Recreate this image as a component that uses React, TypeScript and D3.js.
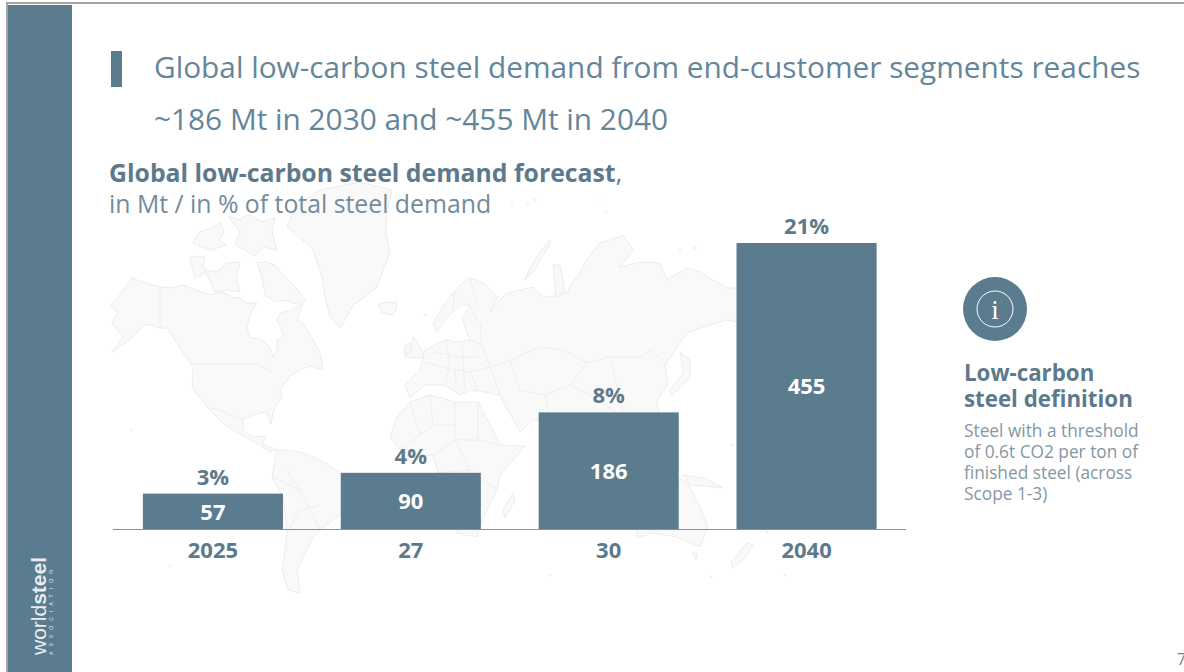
import * as d3 from "d3";

const categories = ["2025", "27", "30", "2040"];
const demandMt = [57, 90, 186, 455];
const sharePct = ["3%", "4%", "8%", "21%"];
const titleLines = [
  "Global low-carbon steel demand from end-customer segments reaches",
  "~186 Mt in 2030 and ~455 Mt in 2040",
];
const noteLines = [
  "Steel with a threshold",
  "of 0.6t CO2 per ton of",
  "finished steel (across",
  "Scope 1-3)",
];

// faint background map, traced by eye in page pixels (decoration only)
type Pt = [number, number];
const land: Pt[][] = [
  // north america
  [[110,305],[118,297],[132,278],[146,283],[160,287],[171,288],[183,285],[196,290],[210,295],[222,292],[233,297],[240,298],[247,303],[257,303],[252,310],[247,327],[250,337],[262,340],[270,347],[273,357],[277,350],[277,340],[284,336],[277,320],[280,313],[292,310],[303,303],[297,320],[303,323],[312,338],[320,353],[323,370],[310,366],[300,370],[290,376],[280,390],[282,397],[276,405],[273,413],[271,424],[266,412],[255,414],[243,420],[243,430],[253,437],[266,436],[262,444],[277,450],[270,452],[253,441],[243,436],[225,425],[207,407],[198,395],[192,387],[193,367],[180,348],[167,328],[160,328],[150,325],[143,325],[133,337],[112,352],[123,337],[112,323],[118,312]],
  // south america
  [[277,450],[287,450],[300,452],[313,457],[327,464],[340,472],[352,484],[345,505],[340,515],[330,522],[320,530],[313,537],[308,548],[302,560],[297,570],[300,593],[288,590],[282,570],[285,550],[287,533],[285,515],[283,497],[272,477]],
  // greenland
  [[287,227],[300,238],[313,250],[318,265],[322,277],[325,297],[330,317],[340,328],[346,318],[353,305],[365,297],[377,287],[383,270],[390,253],[386,232],[387,213],[392,190],[360,182],[320,190],[300,203],[292,215]],
  // arctic islands
  [[193,243],[199,232],[212,228],[220,223],[224,232],[219,240],[226,245],[212,250],[202,247]],
  [[228,216],[240,220],[248,214],[262,222],[275,218],[272,232],[277,250],[264,247],[255,256],[245,250],[235,245],[240,232]],
  [[190,258],[198,256],[205,257],[203,265],[207,272],[195,278]],
  [[205,270],[218,272],[226,263],[240,262],[236,278],[240,292],[226,290],[215,292]],
  [[257,263],[266,262],[275,265],[286,278],[296,288],[306,300],[296,304],[285,300],[276,302],[265,295],[262,278]],
  [[378,305],[388,302],[397,303],[396,310],[393,315],[382,313]],
  [[413,337],[420,347],[425,357],[415,358],[405,357],[411,347]],
  [[405,345],[410,343],[411,352],[404,354]],
  // eurasia
  [[433,323],[443,306],[453,293],[461,284],[470,278],[485,284],[498,297],[490,312],[500,300],[507,293],[520,290],[533,287],[542,296],[550,297],[567,293],[572,282],[577,277],[588,258],[600,243],[610,240],[623,235],[633,250],[620,267],[640,262],[660,263],[667,280],[687,268],[700,272],[713,280],[728,288],[740,288],[760,300],[760,330],[745,345],[738,322],[727,320],[707,326],[687,333],[677,347],[665,365],[668,385],[657,400],[660,420],[650,450],[640,470],[625,445],[610,430],[590,425],[582,450],[570,425],[552,420],[533,420],[520,432],[505,405],[500,395],[485,392],[470,390],[460,395],[445,385],[425,385],[410,398],[405,385],[420,370],[425,350],[435,345],[445,340],[458,342],[470,340],[466,330],[462,318],[470,306],[463,304],[452,312],[445,320],[437,332]],
  [[680,352],[690,360],[690,378],[672,395],[670,390],[684,372]],
  [[530,268],[540,252],[550,240],[550,245],[541,258],[535,270],[525,280]],
  [[553,265],[560,265],[563,280],[565,292],[556,298]],
  // africa
  [[397,417],[410,402],[430,395],[442,398],[455,402],[478,402],[484,414],[490,425],[500,445],[525,446],[513,460],[500,475],[497,490],[483,517],[477,537],[457,533],[456,515],[453,500],[438,473],[433,455],[415,457],[400,450],[390,437]],
  [[513,493],[515,500],[505,518],[503,510]],
  // oceania
  [[680,478],[687,483],[694,495],[700,507],[708,527],[700,547],[677,537],[653,533],[637,538],[637,520],[655,500],[670,490]],
  [[692,553],[698,554],[696,560]],
  [[683,475],[705,478],[723,488],[705,486],[690,485]],
  [[747,543],[753,545],[745,558],[733,568],[731,562]],
  [[625,435],[640,450],[632,452]],
  [[655,455],[670,462],[660,470]],
  [[648,475],[668,478],[660,482]],
];
const borders: Pt[][] = [
  [[160,287],[160,328]],
  [[193,364],[258,364],[272,372]],
  [[207,407],[225,412],[243,420]],
  [[510,360],[540,347],[563,350],[587,363],[610,357],[643,357],[650,350],[670,367]],
  [[480,323],[482,345],[490,367],[510,360]],
  [[470,340],[482,345]],[[445,340],[450,365],[445,385]],[[425,362],[445,368],[470,372],[490,367]],
  [[462,345],[465,390]],[[490,367],[500,395]],
  [[434,352],[450,355],[462,358],[482,356]],[[455,368],[456,385]],[[470,372],[478,390]],
  [[470,306],[478,322]],[[455,292],[452,312]],[[470,278],[476,300]],
  [[510,360],[520,390],[545,395],[570,385],[587,363]],
  [[545,395],[550,420]],[[570,385],[600,400],[625,420]],[[610,357],[625,420]],
  [[410,402],[420,435],[400,450]],[[430,395],[433,425],[420,435]],[[455,402],[455,440],[433,455]],
  [[478,402],[478,440],[455,440]],[[478,440],[500,445]],[[455,440],[470,470],[497,490]],
  [[438,473],[470,470]],[[453,500],[483,505]],[[433,425],[455,425]],
  [[272,477],[300,490],[320,530]],[[287,470],[300,490]],[[287,533],[300,510],[320,505]],
];
const islets: Pt[] = [[512,205],[528,204],[535,200],[600,200],[606,212],[680,250],[695,248],[425,315],[767,532],[732,445],[785,575],[550,575],[170,566],[131,430],[711,577],[750,480],[815,512]];

const blue = "#5b7b8f";
const labelBlue = "#5d7a8d";
const noteGrey = "#8497a4";
const fontFamily = "'Open Sans', sans-serif";

export default function App() {
  const x = d3.scaleBand<string>().domain(categories).range([114, 905.5]).paddingInner(0.292).paddingOuter(0.146);
  const y = d3.scaleLinear().domain([0, 455]).range([529.5, 243]);
  const outline = d3.line<Pt>().curve(d3.curveLinear);
  const bw = x.bandwidth();

  return (
    <svg width={1184} height={672} viewBox="0 0 1184 672" style={{ position: "fixed", left: 0, top: 0, display: "block", fontFamily }}>
      <rect width={1184} height={672} fill="#fff" />
      <rect x={6} y={2} width={1178} height={2} fill="#a3a3a3" />
      <rect x={6} y={2} width={2} height={670} fill="#a3a3a3" />
      <rect x={8} y={5} width={64} height={667} fill={blue} />

      {/* map */}
      <g>
        {land.map((p, i) => (
          <path key={i} d={outline(p) + "Z"} fill="#f9f9fa" stroke="#e7e7e8" strokeWidth={0.8} strokeLinejoin="round" />
        ))}
        {borders.map((p, i) => (
          <path key={i} d={outline(p) ?? ""} fill="none" stroke="#e8e8e9" strokeWidth={0.7} />
        ))}
        {islets.map((p, i) => (
          <circle key={i} cx={p[0]} cy={p[1]} r={1.3} fill="#efeff0" />
        ))}
      </g>

      {/* title */}
      <rect x={111} y={51} width={11} height={36} fill={blue} />
      {titleLines.map((t, i) => (
        <text key={t} x={154} y={78 + i * 51.5} fontSize={29.8} fill="#64869a">{t}</text>
      ))}

      <text x={109} y={182} fontSize={24.8} fontWeight={700} fill={labelBlue}>
        Global low-carbon steel demand forecast<tspan fontWeight={400}>,</tspan>
      </text>
      <text x={109} y={213} fontSize={24.8} fill="#728c9c">in Mt / in % of total steel demand</text>

      {/* bars */}
      {categories.map((c, i) => {
        const top = y(demandMt[i]);
        const cx = x(c)! + bw / 2;
        return (
          <g key={c} textAnchor="middle" fontWeight={700}>
            <rect x={x(c)} y={top} width={bw} height={y(0) - top} fill={blue} />
            <text x={cx} y={top - 9} fontSize={22} fill={labelBlue}>{sharePct[i]}</text>
            <text x={cx} y={(top + y(0)) / 2 + 8} fontSize={22} fill="#fff">{demandMt[i]}</text>
            <text x={cx} y={558} fontSize={22} fill={labelBlue}>{c}</text>
          </g>
        );
      })}
      <line x1={113} x2={906} y1={529.5} y2={529.5} stroke="#7d96a5" strokeWidth={1} />

      {/* info panel */}
      <circle cx={995} cy={309} r={32} fill={blue} />
      <circle cx={995} cy={309} r={18} fill="none" stroke="#fff" strokeWidth={1} />
      <text x={995} y={319} textAnchor="middle" fontSize={27} fontFamily="'Liberation Serif', serif" fill="#fff" fontWeight={400}>i</text>
      <text x={964} y={381} fontSize={22.3} fontWeight={700} fill={labelBlue}>Low-carbon</text>
      <text x={964} y={407} fontSize={22.3} fontWeight={700} fill={labelBlue}>steel definition</text>
      {noteLines.map((t, i) => (
        <text key={t} x={964} y={437 + i * 21} fontSize={17.3} fill={noteGrey}>{t}</text>
      ))}

      {/* logo */}
      <g transform="translate(46,655) rotate(-90)" fill="#e6edf1" fontFamily="'Liberation Sans', sans-serif">
        <text fontSize={21}>world<tspan fontWeight={700}>steel</tspan></text>
        <text y={7} fontSize={5} letterSpacing={5.1}>ASSOCIATION</text>
      </g>

      <text x={1177} y={665} fontSize={16} fill="#6f7f8a">7</text>
    </svg>
  );
}
